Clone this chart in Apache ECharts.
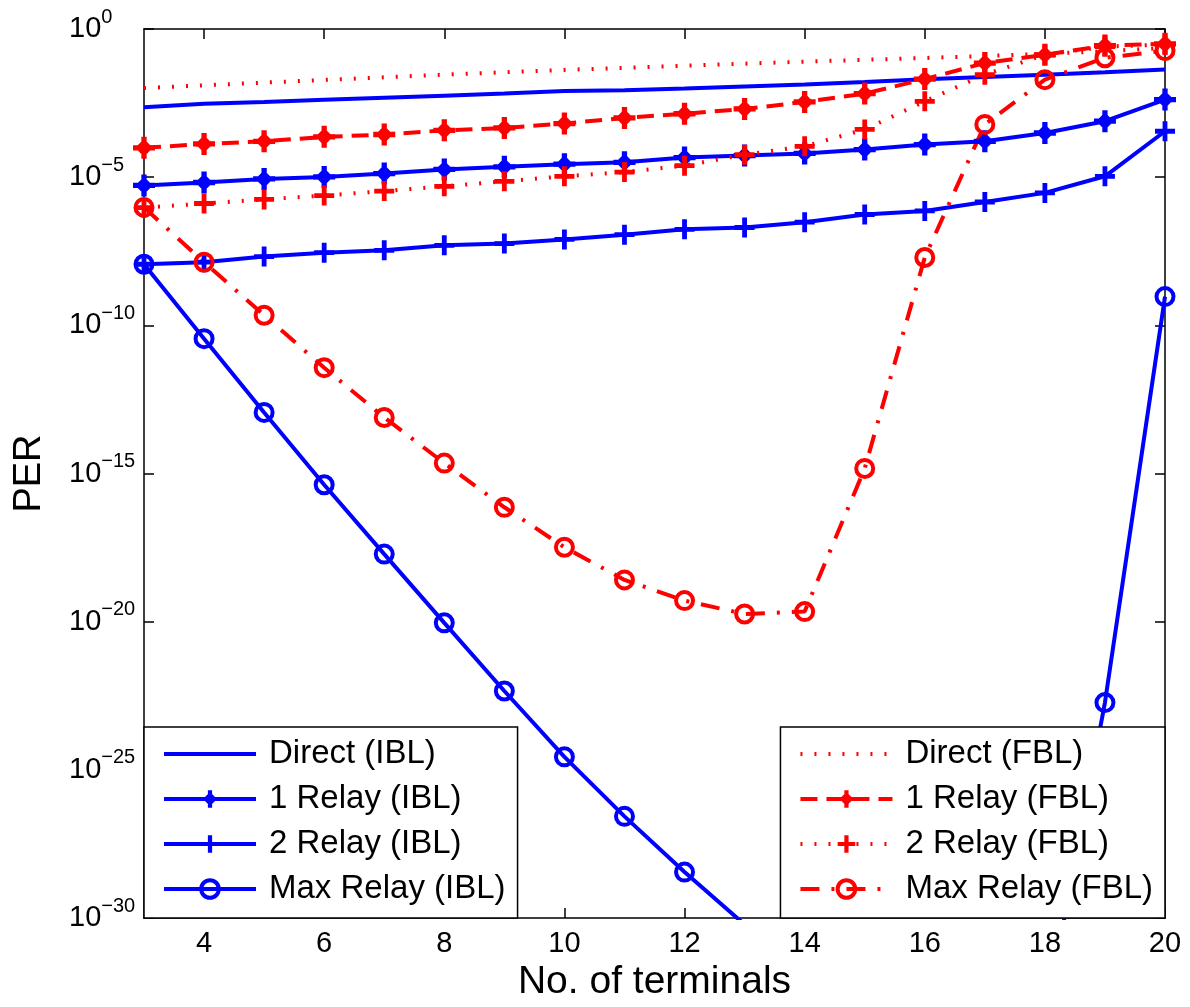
<!DOCTYPE html>
<html><head><meta charset="utf-8">
<script src="https://cdn.jsdelivr.net/npm/echarts@6/dist/echarts.min.js"></script>
<style>html,body{margin:0;padding:0;background:#fff}#c{width:1190px;height:1007px}</style>
</head><body><div id="c"></div>
<script>
// ---- data ----
const terminals = [3,4,5,6,7,8,9,10,11,12,13,14,15,16,17,18,19,20];

const directIBL   = [2.29e-3,3.02e-3,3.47e-3,4.07e-3,4.79e-3,5.62e-3,6.61e-3,8.13e-3,8.51e-3,9.77e-3,1.15e-2,1.35e-2,1.62e-2,2.00e-2,2.40e-2,2.88e-2,3.47e-2,4.27e-2];
const relay1IBL   = [5.25e-6,6.61e-6,8.71e-6,1.02e-5,1.32e-5,1.82e-5,2.24e-5,2.75e-5,3.16e-5,4.57e-5,5.37e-5,6.31e-5,8.51e-5,1.26e-4,1.62e-4,3.09e-4,7.76e-4,4.17e-3];
const relay2IBL   = [1.15e-8,1.35e-8,2.09e-8,2.82e-8,3.39e-8,5.01e-8,5.75e-8,7.94e-8,1.15e-7,1.74e-7,2.00e-7,3.02e-7,5.50e-7,7.24e-7,1.45e-6,2.95e-6,1.07e-5,3.55e-4];
const maxRelayIBL = [1.15e-8,3.55e-11,1.15e-13,4.17e-16,1.91e-18,9.12e-21,4.57e-23,2.75e-25,2.69e-27,3.55e-29,6.03e-31,null,null,null,null,3.16e-34,1.86e-23,9.33e-10];

const directFBL   = [1.02e-2,1.26e-2,1.55e-2,1.91e-2,2.34e-2,2.88e-2,3.47e-2,4.17e-2,4.90e-2,5.75e-2,6.76e-2,7.94e-2,9.12e-2,0.105,0.123,0.145,0.178,0.229];
const relay1FBL   = [9.77e-5,1.32e-4,1.62e-4,2.29e-4,2.75e-4,3.80e-4,4.57e-4,6.46e-4,1.00e-3,1.38e-3,2.00e-3,3.47e-3,6.61e-3,2.04e-2,7.08e-2,0.135,0.275,0.316];
const relay2FBL   = [9.33e-7,1.29e-6,1.78e-6,2.40e-6,3.39e-6,4.90e-6,7.24e-6,1.07e-5,1.48e-5,2.45e-5,5.75e-5,1.10e-4,4.07e-4,3.63e-3,2.88e-2,0.135,0.257,0.295];
const maxRelayFBL = [9.55e-7,1.35e-8,2.19e-10,3.72e-12,7.76e-14,2.24e-15,7.24e-17,3.24e-18,2.57e-19,5.13e-20,1.82e-20,2.19e-20,1.48e-15,1.95e-8,6.03e-4,1.95e-2,0.107,0.186];

const namesIBL = ['Direct (IBL)','1 Relay (IBL)','2 Relay (IBL)','Max Relay (IBL)'];
const namesFBL = ['Direct (FBL)','1 Relay (FBL)','2 Relay (FBL)','Max Relay (FBL)'];

const xTickValues = [4,6,8,10,12,14,16,18,20];
const yTickValues = [1,1e-5,1e-10,1e-15,1e-20,1e-25,1e-30];
const xAxisTitle = 'No. of terminals';
const yAxisTitle = 'PER';

// ---- styling ----
const FONT = '"Liberation Sans", Arial, Helvetica, sans-serif';
const BLUE = '#0000ff', RED = '#ff0000';
const LW = 4;
const PLUS = 'path://M-2.4,-10L2.4,-10L2.4,-2.4L10,-2.4L10,2.4L2.4,2.4L2.4,10L-2.4,10L-2.4,2.4L-10,2.4L-10,-2.4L-2.4,-2.4Z';
const STAR = 'path://M-2.4,-10L2.4,-10L2.4,-2.4L10,-2.4L10,2.4L2.4,2.4L2.4,10L-2.4,10L-2.4,2.4L-10,2.4L-10,-2.4L-2.4,-2.4Z M0,-8L8,0L0,8L-8,0Z';
const DOT = [2, 12];
const DASH = [17, 9];
const DASHDOT = [19, 12, 3, 12];

function pairs(vals){ return terminals.map((n,i)=>[n, vals[i]]); }

function mk(name, vals, color, dash, sym){
  const s = {
    name: name, type: 'line', data: pairs(vals),
    connectNulls: false, clip: true, showAllSymbol: true,
    lineStyle: {color: color, width: LW, type: dash || 'solid', cap: 'butt'},
    emphasis: {disabled: true}
  };
  if (!sym) {
    s.symbol = 'circle'; s.symbolSize = 0; s.showSymbol = false;
    s.itemStyle = {color: 'rgba(0,0,0,0)', borderWidth: 0};
  } else if (sym === 'o') {
    s.symbol = 'circle'; s.symbolSize = 17;
    s.itemStyle = {color: 'rgba(0,0,0,0)', borderColor: color, borderWidth: LW};
  } else if (sym === '+') {
    s.symbol = PLUS; s.symbolSize = 20;
    s.itemStyle = {color: color, borderWidth: 0};
  } else {
    s.symbol = STAR; s.symbolSize = 22;
    s.itemStyle = {color: color, borderWidth: 0};
  }
  return s;
}

const series = [
  mk(namesIBL[0], directIBL, BLUE, 'solid', null),
  mk(namesIBL[1], relay1IBL, BLUE, 'solid', '*'),
  mk(namesIBL[2], relay2IBL, BLUE, 'solid', '+'),
  mk(namesIBL[3], maxRelayIBL, BLUE, 'solid', 'o'),
  mk(namesFBL[0], directFBL, RED, DOT, null),
  mk(namesFBL[1], relay1FBL, RED, DASH, '*'),
  mk(namesFBL[2], relay2FBL, RED, DOT, '+'),
  mk(namesFBL[3], maxRelayFBL, RED, DASHDOT, 'o')
];

function legendItems(names){
  return names.map(function(n, i){
    const it = {name: n, lineStyle: {width: LW}};
    if (i === 3) it.itemStyle = {borderWidth: LW};
    return it;
  });
}

const axisLine = {show: true, onZero: false, lineStyle: {color: '#000', width: 1.5}};
const legendBase = {
  orient: 'vertical', top: 727, itemWidth: 92, itemHeight: 22, itemGap: 11,
  padding: [10, 12, 12, 18], backgroundColor: '#fff', borderColor: '#000', borderWidth: 1.5,
  borderRadius: 0, selectedMode: false,
  lineStyle: {width: LW},
  textStyle: {fontSize: 33, fontFamily: FONT, color: '#000', lineHeight: 34, padding: [0,0,0,8]}
};

const chart = echarts.init(document.getElementById('c'), null, {renderer: 'canvas'});
chart.setOption({
  animation: false,
  backgroundColor: '#fff',
  grid: {left: 144, right: 25, top: 29, bottom: 87, containLabel: false},
  xAxis: [
    {type: 'value', position: 'bottom', min: 3, max: 20,
     axisLine: axisLine,
     axisTick: {show: true, inside: true, length: 10, customValues: xTickValues, lineStyle: {color: '#000', width: 1.5}},
     axisLabel: {show: true, customValues: xTickValues, margin: 11, fontSize: 29, fontFamily: FONT, color: '#000'},
     splitLine: {show: false},
     name: xAxisTitle, nameLocation: 'middle', nameGap: 45,
     nameTextStyle: {fontSize: 39, fontFamily: FONT, color: '#000'}},
    {type: 'value', position: 'top', min: 3, max: 20,
     axisLine: axisLine,
     axisTick: {show: true, inside: true, length: 10, customValues: xTickValues, lineStyle: {color: '#000', width: 1.5}},
     axisLabel: {show: false}, splitLine: {show: false}}
  ],
  yAxis: [
    {type: 'log', logBase: 10, position: 'left', min: 1e-30, max: 1,
     axisLine: axisLine,
     axisTick: {show: true, inside: true, length: 10, customValues: yTickValues, lineStyle: {color: '#000', width: 1.5}},
     minorTick: {show: false}, splitLine: {show: false},
     axisLabel: {show: true, customValues: yTickValues, align: 'left', margin: 75,
       showMinLabel: true, showMaxLabel: true,
       formatter: function(v){ const e = Math.round(Math.log10(v)); return '{b|10}{s|' + (e < 0 ? '\u2212' + (-e) : String(e)) + '}'; },
       rich: {
         b: {fontSize: 29, fontFamily: FONT, color: '#000'},
         s: {fontSize: 20, fontFamily: FONT, color: '#000', padding: [0, 0, 24, 0]}
       }},
     name: yAxisTitle, nameLocation: 'middle', nameRotate: 90, nameGap: 95,
     nameTextStyle: {fontSize: 38, fontFamily: FONT, color: '#000'}},
    {type: 'log', logBase: 10, position: 'right', min: 1e-30, max: 1,
     axisLine: axisLine,
     axisTick: {show: true, inside: true, length: 10, customValues: yTickValues, lineStyle: {color: '#000', width: 1.5}},
     minorTick: {show: false}, splitLine: {show: false}, axisLabel: {show: false}}
  ],
  legend: [
    Object.assign({}, legendBase, {data: legendItems(namesIBL), left: 144}),
    Object.assign({}, legendBase, {data: legendItems(namesFBL), right: 25})
  ],
  series: series
});
</script>
</body></html>
